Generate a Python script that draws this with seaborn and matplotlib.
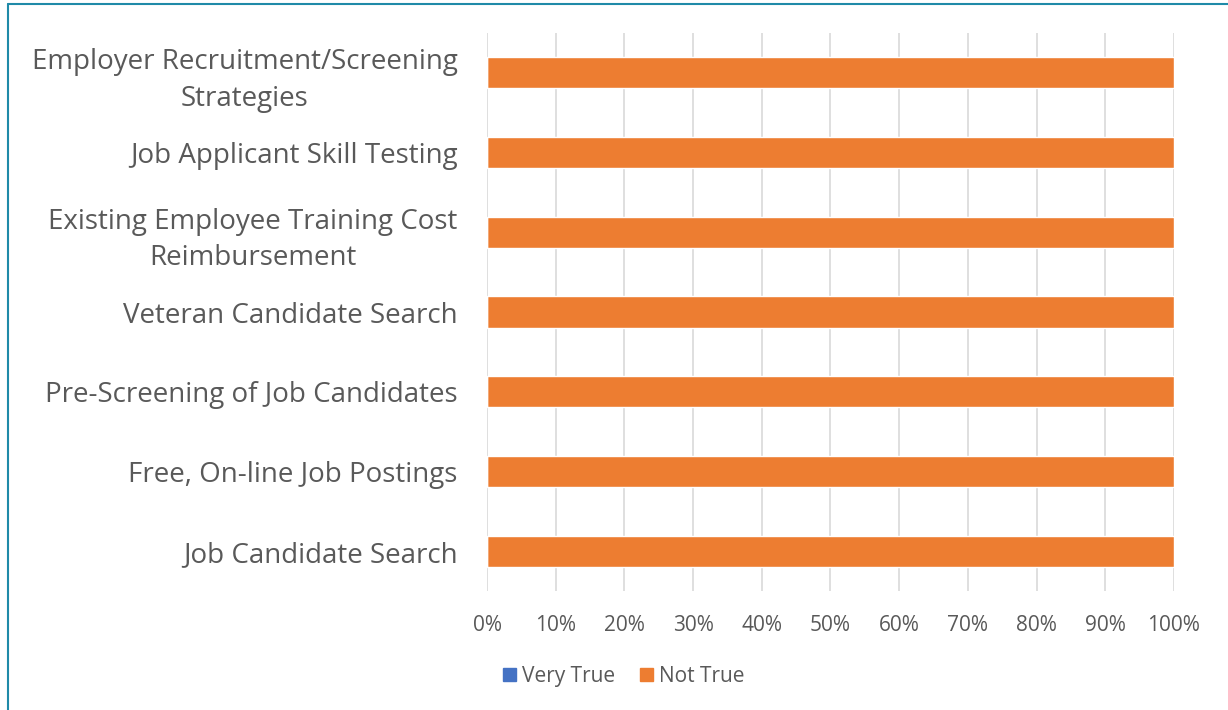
import matplotlib.pyplot as plt
import matplotlib.lines as mlines
import matplotlib.patches as mpatches
import seaborn as sns
import pandas as pd

sns.set_style("white")
plt.rcParams['font.family'] = ['Open Sans', 'DejaVu Sans']

# Data
services = [
    'Employer Recruitment/Screening\nStrategies',
    'Job Applicant Skill Testing',
    'Existing Employee Training Cost\nReimbursement',
    'Veteran Candidate Search',
    'Pre-Screening of Job Candidates',
    'Free, On-line Job Postings',
    'Job Candidate Search',
]
very_true = [0, 0, 0, 0, 0, 0, 0]
not_true = [100, 100, 100, 100, 100, 100, 100]

df = pd.DataFrame({'service': services, 'very_true': very_true, 'not_true': not_true})
df['total'] = df['very_true'] + df['not_true']

blue = '#4472C4'
orange = '#ED7D31'
text_col = '#595959'

fig = plt.figure(figsize=(12.28, 7.10), dpi=100)
ax = fig.add_axes([0.3966, 0.1676, 0.5594, 0.7859])

# stacked bars: total in orange, "Very True" segment on top from 0
sns.barplot(data=df, y='service', x='total', color=orange, width=0.39,
            saturation=1, ax=ax, orient='h')
sns.barplot(data=df, y='service', x='very_true', color=blue, width=0.39,
            saturation=1, ax=ax, orient='h')

ax.set_xlim(0, 100)
ax.set_xticks(range(0, 101, 10))
ax.set_xticklabels([f'{t}%' for t in range(0, 101, 10)])
ax.set_xlabel('')
ax.set_ylabel('')
ax.grid(axis='x', color='#D9D9D9', linewidth=1.2)
ax.set_axisbelow(True)
for s in ax.spines.values():
    s.set_visible(False)
ax.tick_params(axis='y', length=0, pad=21, labelsize=20, labelcolor=text_col)
ax.tick_params(axis='x', length=0, pad=17, labelsize=15, labelcolor=text_col)
for lbl in ax.get_yticklabels():
    lbl.set_multialignment('center')
    lbl.set_linespacing(1.4)

handles = [mpatches.Patch(color=blue, label='Very True'),
           mpatches.Patch(color=orange, label='Not True')]
fig.legend(handles=handles, loc='center', bbox_to_anchor=(0.508, 0.047), ncol=2,
           frameon=False, fontsize=15, labelcolor=text_col,
           handlelength=0.6, handleheight=0.6, handletextpad=0.3, columnspacing=1.2)

# chart frame (top and left edges visible)
frame_col = '#1F8AA8'
fig.add_artist(mlines.Line2D([8 / 1228, 8 / 1228], [0, 1 - 4 / 710],
                             transform=fig.transFigure, color=frame_col, linewidth=1.5))
fig.add_artist(mlines.Line2D([8 / 1228, 1], [1 - 4 / 710, 1 - 4 / 710],
                             transform=fig.transFigure, color=frame_col, linewidth=1.5))

fig.savefig('out.png', dpi=100)
